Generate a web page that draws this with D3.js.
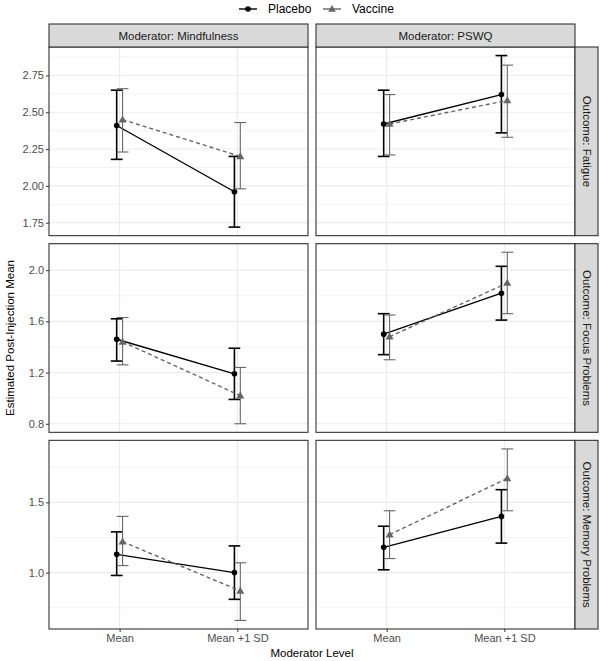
<!DOCTYPE html>
<html><head><meta charset="utf-8">
<script src="https://cdn.jsdelivr.net/npm/d3@7"></script>
<style>body{margin:0;background:#fff}svg{display:block;font-family:"Liberation Sans",Arial,sans-serif}</style>
</head><body><svg id="c" width="600" height="661"></svg>
<script>
const moderators = ["Mindfulness", "PSWQ"];
const outcomes = ["Fatigue", "Focus Problems", "Memory Problems"];
const levels = ["Mean", "Mean +1 SD"];
const groups = ["Placebo", "Vaccine"];

// values indexed [outcome][moderator][level]
const placeboEst = [[[2.41, 1.96], [2.42, 2.62]], [[1.46, 1.19], [1.50, 1.82]], [[1.13, 1.00], [1.18, 1.40]]];
const placeboLo  = [[[2.18, 1.72], [2.20, 2.36]], [[1.29, 0.99], [1.34, 1.61]], [[0.98, 0.81], [1.02, 1.21]]];
const placeboHi  = [[[2.65, 2.20], [2.65, 2.885]], [[1.62, 1.39], [1.66, 2.03]], [[1.29, 1.19], [1.33, 1.59]]];
const vaccineEst = [[[2.45, 2.20], [2.42, 2.58]], [[1.44, 1.02], [1.48, 1.90]], [[1.22, 0.87], [1.27, 1.67]]];
const vaccineLo  = [[[2.23, 1.98], [2.21, 2.33]], [[1.26, 0.80], [1.30, 1.66]], [[1.05, 0.66], [1.10, 1.44]]];
const vaccineHi  = [[[2.66, 2.43], [2.62, 2.82]], [[1.63, 1.24], [1.65, 2.14]], [[1.40, 1.07], [1.44, 1.88]]];

const yTicks = [[1.75, 2.00, 2.25, 2.50, 2.75], [0.8, 1.2, 1.6, 2.0], [1.0, 1.5]];
const yTickLabels = [["1.75", "2.00", "2.25", "2.50", "2.75"], ["0.8", "1.2", "1.6", "2.0"], ["1.0", "1.5"]];
const yMinor = [[1.875, 2.125, 2.375, 2.625, 2.875], [1.0, 1.4, 1.8, 2.2], [0.75, 1.25, 1.75]];

const svg = d3.select("#c");
const L = 49, R = 575, T = 47, B = 629, GAP = 8;
const pw = (R - L - GAP) / 2, ph = (B - T - 2 * GAP) / 3;
const stripH = 23, stripW = 23;
const colors = {Placebo: "#000000", Vaccine: "#666666"};

const x = d3.scalePoint().domain(levels).range([0, pw]).padding(0.6);
const step = x.step();
const dodge = {Placebo: -0.025 * step, Vaccine: 0.025 * step};
const whisk = 0.05 * step;

const est = {Placebo: placeboEst, Vaccine: vaccineEst};
const lo = {Placebo: placeboLo, Vaccine: vaccineLo};
const hi = {Placebo: placeboHi, Vaccine: vaccineHi};

// legend
const leg = svg.append("g");
const legItems = [{g: "Placebo", kx: 239, tx: 268}, {g: "Vaccine", kx: 323, tx: 352}];
legItems.forEach(it => {
  leg.append("line").attr("x1", it.kx).attr("x2", it.kx + 18).attr("y1", 9).attr("y2", 9)
    .attr("stroke", colors[it.g]).attr("stroke-width", 1.4);
  if (it.g === "Placebo") leg.append("circle").attr("cx", it.kx + 9).attr("cy", 9).attr("r", 2.8).attr("fill", colors[it.g]);
  else leg.append("path").attr("d", d3.symbol(d3.symbolTriangle, 26)()).attr("transform", `translate(${it.kx + 9},9.5)`).attr("fill", colors[it.g]);
  leg.append("text").attr("x", it.tx).attr("y", 13).attr("font-size", 12).attr("fill", "#000").text(it.g);
});

outcomes.forEach((out, r) => {
  const py = T + r * (ph + GAP);
  let vals = [];
  groups.forEach(g => { [0, 1].forEach(m => { vals = vals.concat(lo[g][r][m], hi[g][r][m]); }); });
  const mn = d3.min(vals), mx = d3.max(vals), ex = (mx - mn) * 0.05;
  const y = d3.scaleLinear().domain([mn - ex, mx + ex]).range([ph, 0]);

  moderators.forEach((mod, c) => {
    const px = L + c * (pw + GAP);
    const g = svg.append("g").attr("transform", `translate(${px},${py})`);
    g.append("rect").attr("width", pw).attr("height", ph).attr("fill", "#fff");
    g.selectAll(".mn").data(yMinor[r].filter(v => v >= y.domain()[0] && v <= y.domain()[1])).join("line")
      .attr("x1", 0).attr("x2", pw).attr("y1", d => y(d)).attr("y2", d => y(d))
      .attr("stroke", "#ebebeb").attr("stroke-width", 0.6);
    g.selectAll(".mj").data(yTicks[r]).join("line")
      .attr("x1", 0).attr("x2", pw).attr("y1", d => y(d)).attr("y2", d => y(d))
      .attr("stroke", "#ebebeb").attr("stroke-width", 1.1);
    g.selectAll(".vx").data(levels).join("line")
      .attr("x1", d => x(d)).attr("x2", d => x(d)).attr("y1", 0).attr("y2", ph)
      .attr("stroke", "#ebebeb").attr("stroke-width", 1.1);

    groups.forEach(gr => {
      const pts = levels.map((lv, i) => ({
        x: x(lv) + dodge[gr], e: est[gr][r][c][i], l: lo[gr][r][c][i], h: hi[gr][r][c][i]
      }));
      const col = colors[gr];
      const sw = gr === "Placebo" ? 1.6 : 1.1;
      pts.forEach(p => {
        g.append("line").attr("x1", p.x).attr("x2", p.x).attr("y1", y(p.l)).attr("y2", y(p.h)).attr("stroke", col).attr("stroke-width", sw);
        g.append("line").attr("x1", p.x - whisk).attr("x2", p.x + whisk).attr("y1", y(p.l)).attr("y2", y(p.l)).attr("stroke", col).attr("stroke-width", sw);
        g.append("line").attr("x1", p.x - whisk).attr("x2", p.x + whisk).attr("y1", y(p.h)).attr("y2", y(p.h)).attr("stroke", col).attr("stroke-width", sw);
      });
      g.append("path").datum(pts)
        .attr("d", d3.line().x(p => p.x).y(p => y(p.e)))
        .attr("fill", "none").attr("stroke", col).attr("stroke-width", 1.4)
        .attr("stroke-dasharray", gr === "Vaccine" ? "4,3" : null);
      pts.forEach(p => {
        if (gr === "Placebo") g.append("circle").attr("cx", p.x).attr("cy", y(p.e)).attr("r", 2.8).attr("fill", col);
        else g.append("path").attr("d", d3.symbol(d3.symbolTriangle, 28)()).attr("transform", `translate(${p.x},${y(p.e) + 0.5})`).attr("fill", col);
      });
    });

    g.append("rect").attr("width", pw).attr("height", ph).attr("fill", "none").attr("stroke", "#333").attr("stroke-width", 1.1);

    if (c === 0) {
      const ax = g.append("g").call(d3.axisLeft(y).tickValues(yTicks[r]).tickSize(3).tickPadding(2)
        .tickFormat((d, i) => yTickLabels[r][i]));
      ax.select(".domain").remove();
      ax.selectAll("line").attr("stroke", "#333");
      ax.selectAll("text").attr("font-size", 11).attr("fill", "#4d4d4d").attr("font-family", "Liberation Sans, Arial, sans-serif");
    }
    if (r === outcomes.length - 1) {
      const ax = g.append("g").attr("transform", `translate(0,${ph})`).call(d3.axisBottom(x).tickSize(3).tickPadding(2));
      ax.select(".domain").remove();
      ax.selectAll("line").attr("stroke", "#333");
      ax.selectAll("text").attr("font-size", 11).attr("fill", "#4d4d4d").attr("font-family", "Liberation Sans, Arial, sans-serif");
    }
    if (r === 0) {
      const s = svg.append("g").attr("transform", `translate(${px},${T - stripH})`);
      s.append("rect").attr("width", pw).attr("height", stripH).attr("fill", "#d9d9d9").attr("stroke", "#333").attr("stroke-width", 1.1);
      s.append("text").attr("x", pw / 2).attr("y", stripH / 2 + 4).attr("text-anchor", "middle")
        .attr("font-size", 11.5).attr("fill", "#1a1a1a").text("Moderator: " + mod);
    }
  });
  const s = svg.append("g").attr("transform", `translate(${R},${py})`);
  s.append("rect").attr("width", stripW).attr("height", ph).attr("fill", "#d9d9d9").attr("stroke", "#333").attr("stroke-width", 1.1);
  s.append("text").attr("transform", `translate(${stripW / 2 - 4},${ph / 2}) rotate(90)`).attr("text-anchor", "middle")
    .attr("font-size", 11.5).attr("fill", "#1a1a1a").text("Outcome: " + out);
});

svg.append("text").attr("x", (L + R) / 2).attr("y", 657).attr("text-anchor", "middle")
  .attr("font-size", 11.5).attr("fill", "#000").text("Moderator Level");
svg.append("text").attr("transform", `translate(14,${(T + B) / 2}) rotate(-90)`).attr("text-anchor", "middle")
  .attr("font-size", 11.5).attr("fill", "#000").text("Estimated Post-Injection Mean");
</script></body></html>
